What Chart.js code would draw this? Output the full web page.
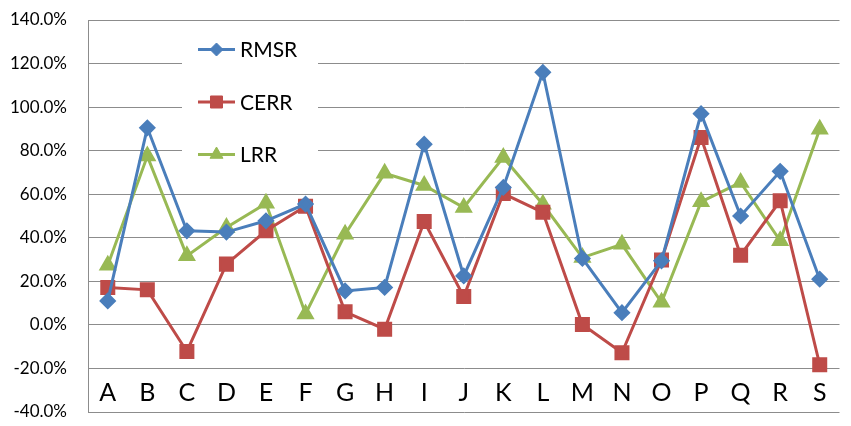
<!DOCTYPE html>
<html>
<head>
<meta charset="utf-8">
<script src="https://cdn.jsdelivr.net/npm/chart.js@4/dist/chart.umd.min.js"></script>
<style>
  html, body { margin: 0; padding: 0; background: #fff; }
  #wrap { width: 851px; height: 426px; }
</style>
</head>
<body>
<div id="wrap"><canvas id="c"></canvas></div>
<script>
// Categories along the horizontal axis
const categories = ['A','B','C','D','E','F','G','H','I','J','K','L','M','N','O','P','Q','R','S'];

// Series values, in percent
const rmsr = [11.0, 90.5, 43.2, 42.6, 47.8, 55.5, 15.6, 17.2, 83.0, 22.5, 63.1, 116.0, 30.5, 5.6, 29.4, 97.0, 50.0, 70.5, 21.0];
const cerr = [17.2, 16.1, -12.2, 27.9, 43.2, 54.5, 6.0, -2.0, 47.5, 13.0, 60.3, 51.7, 0.2, -12.8, 29.8, 86.0, 32.0, 57.0, -18.3];
const lrr  = [27.4, 77.5, 31.7, 44.7, 55.8, 5.0, 41.6, 69.6, 64.0, 53.9, 76.9, 55.4, 30.9, 37.0, 10.4, 56.5, 65.4, 38.6, 89.8];

// Value axis range and tick step
const yMin = -40;
const yMax = 140;
const yStep = 20;

const FONT = 'Lato, "Liberation Sans", sans-serif';

// Legend drawn as a white panel inside the plot area
const insetLegend = {
  id: 'insetLegend',
  beforeDatasetsDraw(chart) {
    const ctx = chart.ctx;
    ctx.save();
    ctx.fillStyle = '#ffffff';
    ctx.fillRect(182, 22, 136, 154);
    const rows = [49.5, 102, 154.5];
    chart.data.datasets.forEach((ds, i) => {
      const y = rows[i];
      ctx.strokeStyle = ds.borderColor;
      ctx.lineWidth = 3;
      ctx.beginPath();
      ctx.moveTo(198, y);
      ctx.lineTo(235, y);
      ctx.stroke();
      ctx.fillStyle = ds.pointBackgroundColor;
      ctx.strokeStyle = ds.pointBorderColor;
      ctx.lineWidth = 1;
      Chart.helpers.drawPoint(ctx, { pointStyle: ds.pointStyle, radius: ds.pointRadius, borderWidth: 1, rotation: 0 }, 216.5, y);
      ctx.fillStyle = '#000';
      ctx.font = '21px ' + FONT;
      ctx.textBaseline = 'middle';
      ctx.textAlign = 'left';
      ctx.fillText(ds.label, 240, y + 1);
    });
    ctx.restore();
  }
};

new Chart(document.getElementById('c'), {
  type: 'line',
  data: {
    labels: categories,
    datasets: [
      { label: 'RMSR', data: rmsr, borderColor: '#4A7EBB', backgroundColor: '#4A7EBB',
        pointBackgroundColor: '#4A7EBB', pointBorderColor: '#4A7EBB',
        pointStyle: 'rectRot', pointRadius: 6.5, borderWidth: 3, tension: 0 },
      { label: 'CERR', data: cerr, borderColor: '#BE4B48', backgroundColor: '#BE4B48',
        pointBackgroundColor: '#BE4B48', pointBorderColor: '#BE4B48',
        pointStyle: 'rect', pointRadius: 8.5, borderWidth: 3, tension: 0 },
      { label: 'LRR', data: lrr, borderColor: '#98B954', backgroundColor: '#98B954',
        pointBackgroundColor: '#98B954', pointBorderColor: '#98B954',
        pointStyle: 'triangle', pointRadius: 7.5, borderWidth: 3, tension: 0 }
    ]
  },
  options: {
    responsive: true,
    maintainAspectRatio: false,
    animation: false,
    devicePixelRatio: 1,
    layout: { padding: { top: 20, bottom: 14, left: 0, right: 6 } },
    plugins: {
      legend: { display: false },
      tooltip: { enabled: false }
    },
    scales: {
      x: {
        type: 'category',
        offset: true,
        position: { y: -20 },
        grid: { display: false },
        border: { display: false },
        ticks: {
          color: '#000',
          font: { size: 25, family: FONT },
          padding: 1,
          maxRotation: 0,
          autoSkip: false
        },
        afterFit: s => { s.height = 0; s.paddingLeft = 0; s.paddingRight = 0; }
      },
      y: {
        min: yMin,
        max: yMax,
        ticks: {
          stepSize: yStep,
          color: '#000',
          padding: 21,
          font: { size: 17, family: FONT },
          callback: v => v.toFixed(1) + '%'
        },
        grid: { color: '#8C8C8C', lineWidth: 1, drawTicks: false },
        border: { display: true, color: '#8C8C8C', width: 1 },
        afterFit: s => { s.width = 88; s.paddingTop = 0; s.paddingBottom = 0; }
      }
    }
  },
  plugins: [insetLegend]
});
</script>
</body>
</html>
